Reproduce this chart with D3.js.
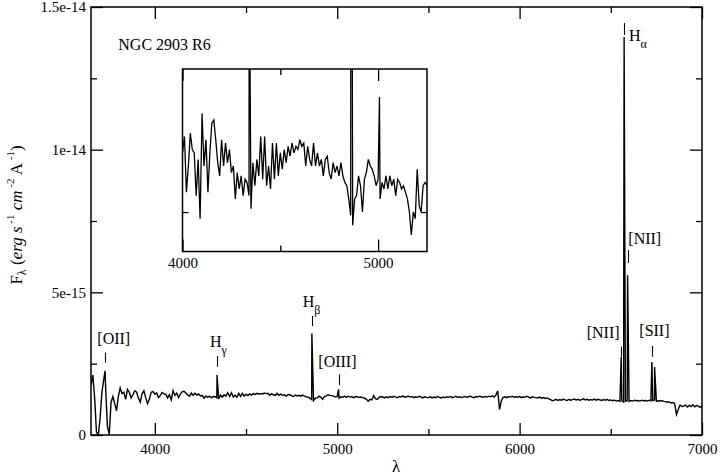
<!DOCTYPE html>
<html>
<head>
<meta charset="utf-8">
<script src="https://cdn.jsdelivr.net/npm/d3@7"></script>
<style>
  html, body { margin: 0; padding: 0; background: #fff; }
  svg { display: block; font-family: "Liberation Serif", "Times New Roman", serif; }
  svg text, .tick text { font-family: "Liberation Serif", "Times New Roman", serif; }
</style>
</head>
<body>
<svg id="chart" width="721" height="475"></svg>
<script>
// ---------------- DATA ----------------
const waveStart = 3650;   // Angstrom, first sample
const waveStep = 10;      // Angstrom between samples
// continuum flux in units of 1e-15 erg/s/cm2/A, one value per 10 A from 3650 to 7000
const fluxE15 = [
  1.75, 2.10, 1.30, 0.10, 0.00, 0.60, 1.50, 1.95, 1.70, 0.30,   // 3650-3740
  0.02, 1.15, 1.35, 1.10, 0.85, 1.35, 1.65, 1.45, 1.50, 1.25,   // 3750-3840
  1.60, 1.50, 1.30, 1.42, 1.55, 1.50, 1.30, 1.15, 1.45, 1.55,   // 3850-3940
  1.30, 1.10, 1.25, 1.50, 1.52,                                 // 3950-3990
  1.43, 1.48, 1.31, 1.39, 1.49, 1.44, 1.43, 1.30, 1.41, 1.23,   // 4000
  1.55, 1.39, 1.47, 1.31, 1.43, 1.52, 1.53, 1.47, 1.40, 1.36,   // 4100
  1.47, 1.39, 1.46, 1.40, 1.44, 1.37, 1.39, 1.29, 1.37, 1.32,   // 4200
  1.36, 1.30, 1.35, 1.34, 1.30, 1.26, 1.40, 1.33, 1.41, 1.36,   // 4300
  1.48, 1.35, 1.48, 1.33, 1.39, 1.32, 1.46, 1.35, 1.46, 1.36,   // 4400
  1.43, 1.38, 1.44, 1.40, 1.45, 1.42, 1.46, 1.43, 1.45, 1.44,   // 4500
  1.47, 1.45, 1.46, 1.39, 1.45, 1.41, 1.39, 1.46, 1.39, 1.43,   // 4600
  1.39, 1.41, 1.36, 1.41, 1.42, 1.37, 1.35, 1.40, 1.37, 1.39,   // 4700
  1.36, 1.40, 1.36, 1.34, 1.33, 1.29, 1.24, 1.21, 1.29, 1.30,   // 4800
  1.36, 1.33, 1.25, 1.35, 1.37, 1.41, 1.39, 1.38, 1.36, 1.33,   // 4900
  1.35, 1.29, 1.34, 1.32, 1.36, 1.32, 1.36, 1.33, 1.35, 1.30,   // 5000
  1.35, 1.34, 1.32, 1.33, 1.31, 1.29, 1.25, 1.18, 1.25, 1.23,   // 5100
  1.38, 1.27, 1.25, 1.33, 1.34, 1.33, 1.30, 1.34, 1.31, 1.35,   // 5200
  1.32, 1.36, 1.33, 1.31, 1.35, 1.33, 1.37, 1.32, 1.34, 1.36,   // 5300
  1.33, 1.35, 1.31, 1.34, 1.32, 1.36, 1.33, 1.30, 1.34, 1.32,   // 5400
  1.31, 1.34, 1.30, 1.33, 1.31, 1.35, 1.32, 1.30, 1.33, 1.31,   // 5500
  1.34, 1.32, 1.35, 1.31, 1.33, 1.36, 1.32, 1.34, 1.31, 1.33,   // 5600
  1.35, 1.32, 1.34, 1.36, 1.33, 1.31, 1.35, 1.33, 1.36, 1.34,   // 5700
  1.32, 1.35, 1.33, 1.36, 1.34, 1.37, 1.33, 1.40, 1.55, 0.90,   // 5800
  1.20, 1.32, 1.34, 1.31, 1.35, 1.33, 1.36, 1.32, 1.34, 1.33,   // 5900
  1.35, 1.31, 1.34, 1.32, 1.36, 1.33, 1.30, 1.34, 1.32, 1.31,   // 6000
  1.30, 1.33, 1.29, 1.31, 1.28, 1.30, 1.27, 1.24, 1.20, 1.22,   // 6100
  1.25, 1.21, 1.24, 1.22, 1.26, 1.23, 1.21, 1.25, 1.22, 1.24,   // 6200
  1.26, 1.23, 1.25, 1.22, 1.24, 1.27, 1.23, 1.25, 1.22, 1.24,   // 6300
  1.23, 1.26, 1.22, 1.25, 1.23, 1.21, 1.24, 1.22, 1.25, 1.21,   // 6400
  1.23, 1.20, 1.22, 1.19, 1.21, 1.18, 1.20, 1.15, 1.18, 1.20,   // 6500
  1.18, 1.21, 1.19, 1.22, 1.20, 1.21, 1.19, 1.22, 1.20, 1.21,   // 6600
  1.19, 1.22, 1.20, 1.21, 1.23, 1.18, 1.20, 1.19, 1.21, 1.18,   // 6700
  1.17, 1.15, 1.16, 1.12, 1.14, 1.10, 0.72, 0.90, 1.05, 1.00,   // 6800
  1.02, 1.05, 0.98, 1.04, 1.00, 1.06, 0.99, 1.03, 1.01, 0.97,   // 6900
  1.02                                                          // 7000
];
// emission lines (observed wavelength, peak flux in 1e-15)
const lineWaves    = [3727, 4341, 4861, 5007, 6557, 6573, 6592, 6725, 6740];
const linePeaksE15 = [2.25, 2.10, 3.56, 1.60, 2.73, 13.95, 5.60, 2.56, 2.38];
const lineNames    = ["[OII]", "H", "H", "[OIII]", "[NII]", "H", "[NII]", "[SII]"];
const lineSubs     = ["", "γ", "β", "", "", "α", "", ""];

const xTicksMajor = [4000, 5000, 6000, 7000];
const xTicksMinor = [4500, 5500, 6500];
const yTicksMajor = [0, 5e-15, 1e-14, 1.5e-14];
const yTickLabels = ["0", "5e-15", "1e-14", "1.5e-14"];
const yTicksMinor = [2.5e-15, 7.5e-15, 1.25e-14];
const insetXMajor = [4000, 5000];
const insetXLabels = ["4000", "5000"];
const insetXMinor = [4500];
const insetYMinor = [1.25e-15];
const title = "NGC 2903 R6";

// ---------------- BUILD SERIES ----------------
const points = fluxE15.map((f, i) => ({ w: waveStart + i * waveStep, f: f * 1e-15 }));
lineWaves.forEach((w, i) => points.push({ w: w, f: linePeaksE15[i] * 1e-15 }));
points.sort((a, b) => a.w - b.w);

// ---------------- LAYOUT ----------------
const svg = d3.select("#chart");
const M = { left: 91, right: 702, top: 7, bottom: 435 };
const x = d3.scaleLinear().domain([3650, 7000]).range([M.left, M.right]);
const y = d3.scaleLinear().domain([0, 1.5e-14]).range([M.bottom, M.top]);

const I = { left: 182.5, right: 427, top: 69, bottom: 251.5 };
const xi = d3.scaleLinear().domain([4000, 5250]).range([I.left, I.right]);
const yi = d3.scaleLinear().domain([1.13e-15, 1.685e-15]).range([I.bottom, I.top]);

const defs = svg.append("defs");
defs.append("clipPath").attr("id", "clipMain").append("rect")
  .attr("x", M.left).attr("y", M.top).attr("width", M.right - M.left).attr("height", M.bottom - M.top);
defs.append("clipPath").attr("id", "clipInset").append("rect")
  .attr("x", I.left).attr("y", I.top).attr("width", I.right - I.left).attr("height", I.bottom - I.top);

function styleAxis(g, showLabels, fs) {
  g.attr("font-family", null);
  g.select(".domain").remove();
  g.selectAll(".tick line").attr("stroke", "#000").attr("stroke-width", 1.3);
  g.selectAll(".tick text").attr("fill", "#000").style("font-size", fs + "px")
    .style("display", showLabels ? null : "none");
}

function drawFrame(xs, ys, box, xMaj, xMin, yMaj, yMin, xLab, yLab, pad, fs) {
  const gb = svg.append("g").attr("transform", `translate(0,${box.bottom})`)
    .call(d3.axisBottom(xs).tickValues(xMaj).tickSize(-12).tickPadding(pad)
      .tickFormat((d, i) => xLab ? xLab[i] : ""));
  styleAxis(gb, !!xLab, fs);
  const gb2 = svg.append("g").attr("transform", `translate(0,${box.bottom})`)
    .call(d3.axisBottom(xs).tickValues(xMin).tickSize(-6).tickFormat(""));
  styleAxis(gb2, false, fs);
  const gt = svg.append("g").attr("transform", `translate(0,${box.top})`)
    .call(d3.axisTop(xs).tickValues(xMaj).tickSize(-12).tickFormat(""));
  styleAxis(gt, false, fs);
  const gt2 = svg.append("g").attr("transform", `translate(0,${box.top})`)
    .call(d3.axisTop(xs).tickValues(xMin).tickSize(-6).tickFormat(""));
  styleAxis(gt2, false, fs);
  const gl = svg.append("g").attr("transform", `translate(${box.left},0)`)
    .call(d3.axisLeft(ys).tickValues(yMaj).tickSize(-12).tickPadding(5)
      .tickFormat((d, i) => yLab ? yLab[i] : ""));
  styleAxis(gl, !!yLab, fs);
  const gl2 = svg.append("g").attr("transform", `translate(${box.left},0)`)
    .call(d3.axisLeft(ys).tickValues(yMin).tickSize(-6).tickFormat(""));
  styleAxis(gl2, false, fs);
  const gr = svg.append("g").attr("transform", `translate(${box.right},0)`)
    .call(d3.axisRight(ys).tickValues(yMaj).tickSize(-12).tickFormat(""));
  styleAxis(gr, false, fs);
  const gr2 = svg.append("g").attr("transform", `translate(${box.right},0)`)
    .call(d3.axisRight(ys).tickValues(yMin).tickSize(-6).tickFormat(""));
  styleAxis(gr2, false, fs);
  svg.append("rect").attr("x", box.left).attr("y", box.top)
    .attr("width", box.right - box.left).attr("height", box.bottom - box.top)
    .attr("fill", "none").attr("stroke", "#000").attr("stroke-width", 1.5);
}

// main spectrum
svg.append("path").datum(points)
  .attr("clip-path", "url(#clipMain)")
  .attr("fill", "none").attr("stroke", "#000").attr("stroke-width", 1.4)
  .attr("stroke-linejoin", "miter")
  .attr("d", d3.line().x(d => x(d.w)).y(d => y(d.f)));

drawFrame(x, y, M, xTicksMajor, xTicksMinor, yTicksMajor, yTicksMinor,
  xTicksMajor.map(String), yTickLabels, 8, 15);

// inset
svg.append("rect").attr("x", I.left).attr("y", I.top)
  .attr("width", I.right - I.left).attr("height", I.bottom - I.top).attr("fill", "#fff");
svg.append("path").datum(points.filter(d => d.w >= 3990 && d.w <= 5260))
  .attr("clip-path", "url(#clipInset)")
  .attr("fill", "none").attr("stroke", "#000").attr("stroke-width", 1.3)
  .attr("stroke-linejoin", "miter")
  .attr("d", d3.line().x(d => xi(d.w)).y(d => yi(d.f)));
drawFrame(xi, yi, I, insetXMajor, insetXMinor, [], insetYMinor,
  insetXLabels, null, 6, 15);

// title
svg.append("text").attr("x", 118.3).attr("y", 50).style("font-size", "16px").text(title);

// axis labels
svg.append("text").attr("x", 396).attr("y", 471.5).attr("text-anchor", "middle")
  .style("font-size", "17px").text("λ");

const yl = svg.append("text").attr("transform", "translate(22,215) rotate(-90)")
  .attr("text-anchor", "middle").style("font-size", "17px");
yl.append("tspan").text("F");
yl.append("tspan").attr("dy", 4).style("font-size", "12px").text("λ");
yl.append("tspan").attr("dy", -4).text(" (");
yl.append("tspan").style("font-style", "italic").text("erg s");
yl.append("tspan").attr("dy", -8).style("font-size", "11px").text(" -1");
yl.append("tspan").attr("dy", 8).style("font-style", "italic").text(" cm");
yl.append("tspan").attr("dy", -8).style("font-size", "11px").text(" -2");
yl.append("tspan").attr("dy", 8).text(" A");
yl.append("tspan").attr("dy", -8).style("font-size", "11px").text(" -1");
yl.append("tspan").attr("dy", 8).text(")");

// line markers and labels
// [index into lineWaves, marker y1, y2, label x, label baseline]
const markerLayout = [
  [0, 352.7, 362.7, 97.3, 344],
  [1, 356, 366.7, 210, 346.7],
  [2, 316, 326, 302.7, 306.7],
  [3, 374.3, 385, 318.3, 367],
  [4, 346.7, 356.7, 586.7, 338],
  [5, 23, 35, 629, 40.7],
  [6, 250, 263, 628.3, 244],
  [7, 346, 356.7, 639.3, 336]
];
markerLayout.forEach((m, k) => {
  const xm = Math.round(x(lineWaves[m[0]])) + 0.5;
  svg.append("line").attr("x1", xm).attr("x2", xm).attr("y1", m[1]).attr("y2", m[2])
    .attr("stroke", "#000").attr("stroke-width", 1.1);
  const t = svg.append("text").attr("x", m[3]).attr("y", m[4]).style("font-size", "16px");
  t.append("tspan").text(lineNames[k]);
  if (lineSubs[k]) t.append("tspan").attr("dy", 7).style("font-size", "12px").text(lineSubs[k]);
});
</script>
</body>
</html>
